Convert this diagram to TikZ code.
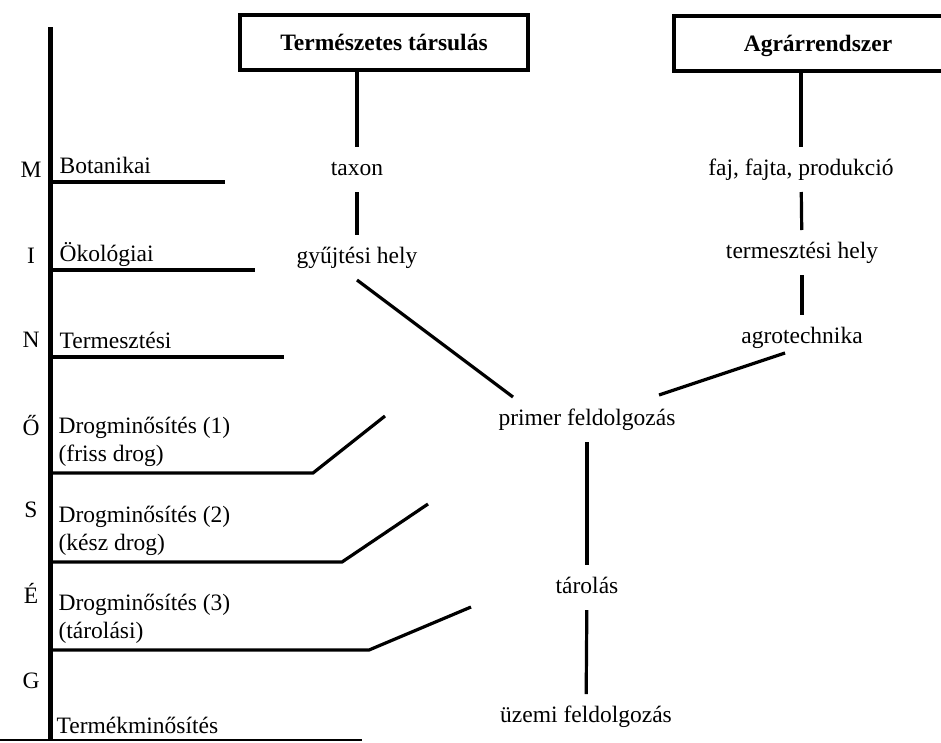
\documentclass[tikz,border=0pt]{standalone}
\usepackage{fontspec}
\setmainfont{Liberation Serif}
\begin{document}
\begin{tikzpicture}[x=1pt,y=-1pt,line width=3.2pt,
  txt/.style={font=\fontsize{23.5}{28}\selectfont, inner sep=0pt, outer sep=12pt,
    text height=16pt, text depth=5pt, anchor=base},
  head/.style={draw, line width=3.6pt, font=\fontsize{23.5}{28}\selectfont\bfseries,
    minimum width=288pt, minimum height=55pt, inner sep=0pt, text height=17pt, text depth=2pt},
  lbl/.style={font=\fontsize{23.5}{28}\selectfont, inner sep=0pt, anchor=base west, align=left},
  letter/.style={font=\fontsize{23.5}{28}\selectfont, inner sep=0pt, anchor=base}]
  \useasboundingbox (0,0) rectangle (941,742);
  \clip (0,0) rectangle (941,742);
  % Quality axis
  \draw[line width=5pt] (50,27) -- (50,740);
  \draw[line width=2.5pt] (0,740) -- (362,740);
  \foreach \y/\ch [count=\i] in {177/M, 263/I, 347/N, 435/Ő, 517/S, 603/É, 688/G}
    \node[letter] (letter\i) at (31,\y) {\ch};
  % Plain rails
  \foreach \y/\x/\name/\txt in {182/225/bot/Botanikai, 270/255/oko/Ökológiai, 357/284/term/Termesztési} {
    \draw (50,\y) -- (\x,\y);
    \node[lbl] (\name) at (58,\y-9) {\txt};
  }
  % Bent rails
  \foreach \i/\y/\xa/\xb/\yb/\sub in {1/473/313/385/416/friss drog, 2/562/342/428/504/kész drog, 3/650/369/471/607/tárolási} {
    \draw (50,\y) -- (\xa,\y) -- (\xb,\yb);
    \node[lbl] (drog\i) at (57,\y-12) {Drogminősítés (\i)\\(\sub)};
  }
  \node[lbl] (termek) at (55,733) {Termékminősítés};
  % Heads
  \node[head] (natural) at (384,42.5) {Természetes társulás};
  \node[head] (agrar) at (818,43.5) {Agrárrendszer};
  % Chain
  \node[txt] (taxon) at (357,175) {taxon};
  \node[txt] (gyujt) at (357,263) {gyűjtési hely};
  \node[txt] (faj) at (801,175) {faj, fajta, produkció};
  \node[txt] (termhely) at (802,258) {termesztési hely};
  \node[txt] (agro) at (802,343) {agrotechnika};
  \node[txt] (primer) at (587,425) {primer feldolgozás};
  \node[txt] (tarolas) at (587,593) {tárolás};
  \node[txt] (uzemi) at (586,722) {üzemi feldolgozás};
  \draw (taxon |- natural.south) -- (taxon);
  \draw (taxon) -- (gyujt);
  \draw (faj |- agrar.south) -- (faj);
  \draw (faj) -- (termhely);
  \draw (termhely) -- (agro);
  \draw (gyujt.south) -- ([xshift=-74pt]primer.north);
  \draw ([xshift=-17pt,yshift=7pt]agro.south) -- ([xshift=72pt,yshift=2pt]primer.north);
  \draw (primer) -- (tarolas);
  \draw (tarolas) -- (uzemi);
\end{tikzpicture}
\end{document}
